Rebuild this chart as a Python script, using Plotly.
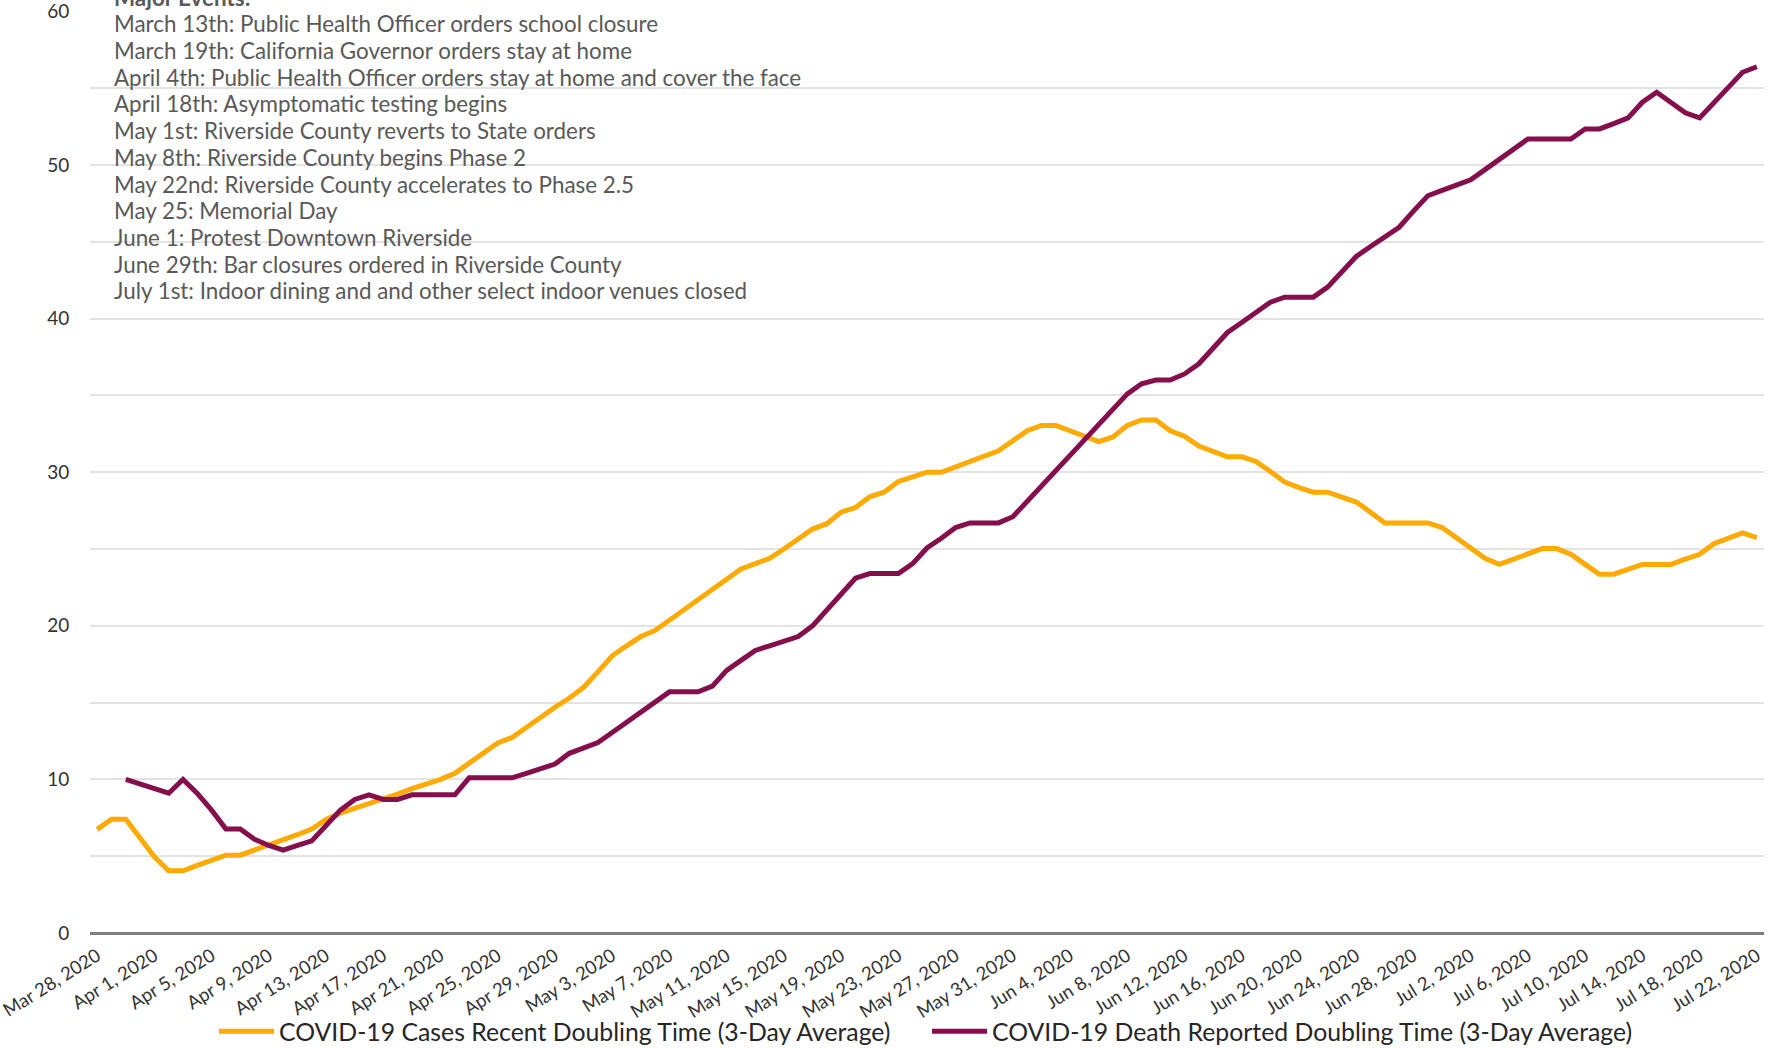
import pandas as pd
import plotly.graph_objects as go

# Categories: daily dates
dates = pd.date_range("2020-03-28", "2020-07-22", freq="D")

cases = [6.75, 7.4, 7.4, 6.2, 4.96, 4.05, 4.05, 4.4, 4.75, 5.07,
         5.07, 5.4, 5.7, 6.0, 6.4, 6.77, 7.4, 7.8, 8.1, 8.4,
         8.7, 9.05, 9.4, 9.7, 10.0, 10.4, 11.05, 11.7, 12.38, 12.73,
         13.4, 14.0, 14.7, 15.3, 16.0, 17.0, 18.05, 18.7, 19.3, 19.7,
         20.35, 21.0, 21.7, 22.35, 23.0, 23.7, 24.05, 24.4, 25.0, 25.7,
         26.3, 26.65, 27.4, 27.7, 28.4, 28.7, 29.4, 29.7, 30.0, 30.0,
         30.35, 30.7, 31.05, 31.4, 32.05, 32.7, 33.05, 33.05, 32.7, 32.35,
         32.0, 32.3, 33.05, 33.4, 33.4, 32.7, 32.35, 31.7, 31.35, 31.0,
         31.0, 30.7, 30.05, 29.36, 29.0, 28.7, 28.7, 28.4, 28.06, 27.4,
         26.7, 26.7, 26.7, 26.7, 26.4, 25.7, 25.05, 24.4, 24.0, 24.35,
         24.7, 25.03, 25.03, 24.66, 24.0, 23.36, 23.36, 23.7, 24.0, 24.0,
         24.0, 24.35, 24.66, 25.35, 25.7, 26.05, 25.74]

deaths = [None, None, 10.0, 9.7, 9.4, 9.1, 10.0, 9.09, 8.0, 6.77,
          6.77, 6.1, 5.7, 5.4, 5.7, 6.0, 7.0, 8.0, 8.7, 9.0,
          8.7, 8.7, 9.0, 9.0, 9.0, 9.0, 10.1, 10.1, 10.1, 10.1,
          10.4, 10.7, 11.0, 11.7, 12.05, 12.4, 13.05, 13.7, 14.4, 15.05,
          15.7, 15.7, 15.7, 16.07, 17.1, 17.75, 18.4, 18.7, 19.0, 19.3,
          20.0, 21.0, 22.05, 23.1, 23.4, 23.4, 23.4, 24.05, 25.07, 25.7,
          26.4, 26.7, 26.7, 26.7, 27.1, 28.1, 29.1, 30.1, 31.0, 32.0,
          33.0, 34.0, 35.1, 35.76, 36.0, 36.0, 36.4, 37.06, 38.1, 39.1,
          39.75, 40.4, 41.07, 41.4, 41.4, 41.4, 42.05, 43.05, 44.05, 44.7,
          45.3, 45.95, 47.0, 48.0, 48.35, 48.7, 49.04, 49.7, 50.4, 51.05,
          51.7, 51.7, 51.7, 51.7, 52.35, 52.35, 52.7, 53.07, 54.09, 54.74,
          54.07, 53.4, 53.07, 54.1, 55.05, 56.04, 56.4]

series_names = ["COVID-19 Cases Recent Doubling Time (3-Day Average)",
                "COVID-19 Death Reported Doubling Time (3-Day Average)"]

events_title = "Major Events:"
events = [
    "March 13th: Public Health Officer orders school closure",
    "March 19th: California Governor orders stay at home",
    "April 4th: Public Health Officer orders stay at home and cover the face",
    "April 18th: Asymptomatic testing begins",
    "May 1st: Riverside County reverts to State orders",
    "May 8th: Riverside County begins Phase 2",
    "May 22nd: Riverside County accelerates to Phase 2.5",
    "May 25: Memorial Day",
    "June 1: Protest Downtown Riverside",
    "June 29th: Bar closures ordered in Riverside County",
    "July 1st: Indoor dining and and other select indoor venues closed",
]

y_ticks = [0, 10, 20, 30, 40, 50, 60]

ORANGE = "#FFAA00"
PURPLE = "#850F4D"
FONT = "Lato, 'Open Sans', sans-serif"

W, H = 1775, 1049
L, R, T, B = 90, 11, 11, 116
plot_h = H - T - B

fig = go.Figure()
fig.add_trace(go.Scatter(x=dates, y=cases, mode="lines", name=series_names[0],
                         line=dict(color=ORANGE, width=5)))
fig.add_trace(go.Scatter(x=dates, y=deaths, mode="lines", name=series_names[1],
                         line=dict(color=PURPLE, width=5), connectgaps=False))

tickdates = dates[::4]

fig.update_layout(
    width=W, height=H,
    margin=dict(l=L, r=R, t=T, b=B, autoexpand=False),
    plot_bgcolor="white", paper_bgcolor="white",
    font=dict(family=FONT, color="#333333", size=19),
    showlegend=True,
    legend=dict(orientation="h", x=0.5, xanchor="center", y=-0.107, yanchor="middle",
                font=dict(size=24.8, color="#262626"),
                bgcolor="rgba(0,0,0,0)",
                itemwidth=55,
                entrywidth=643, entrywidthmode="pixels",
                traceorder="normal"),
    xaxis=dict(
        type="date", automargin=False, ticklabeloverflow="allow",
        range=[dates[0] - pd.Timedelta(hours=12), dates[-1] + pd.Timedelta(hours=12)],
        tickvals=list(tickdates),
        ticktext=[d.strftime("%b ") + str(d.day) + d.strftime(", %Y") for d in tickdates],
        tickangle=-32,
        tickfont=dict(size=18.5, color="#333333"),
        showgrid=False, showline=False, zeroline=False,
        ticks="outside", ticklen=4, tickcolor="rgba(0,0,0,0)",
    ),
    yaxis=dict(
        range=[0, 60.03], automargin=False, ticklabeloverflow="allow",
        tickvals=y_ticks,
        tickfont=dict(size=19, color="#333333"),
        showgrid=True, gridcolor="#e3e3e3", gridwidth=1.5,
        minor=dict(dtick=5, showgrid=True, gridcolor="#e3e3e3", gridwidth=1.5),
        zeroline=True, zerolinecolor="#7f7f7f", zerolinewidth=3,
        ticks="outside", ticklen=16, tickcolor="rgba(0,0,0,0)",
        showline=False,
    ),
)

# Major events text block
x_text = (112 - L) / (W - L - R)
def ypaper(px):
    return (H - B - px) / plot_h

fig.add_annotation(x=x_text, y=ypaper(-3), xref="paper", yref="paper",
                   text="<b>" + events_title + "</b>", showarrow=False,
                   xanchor="left", yanchor="middle",
                   font=dict(size=22.4, color="#595959", family=FONT))
for k, line in enumerate(events):
    fig.add_annotation(x=x_text, y=ypaper(23.8 + 26.7 * k), xref="paper", yref="paper",
                       text=line, showarrow=False, xanchor="left", yanchor="middle",
                       font=dict(size=22.4, color="#595959", family=FONT))

fig.write_html("out.html", config={"displayModeBar": False},
               post_script="document.body.style.margin='0';document.body.style.overflow='hidden';")
